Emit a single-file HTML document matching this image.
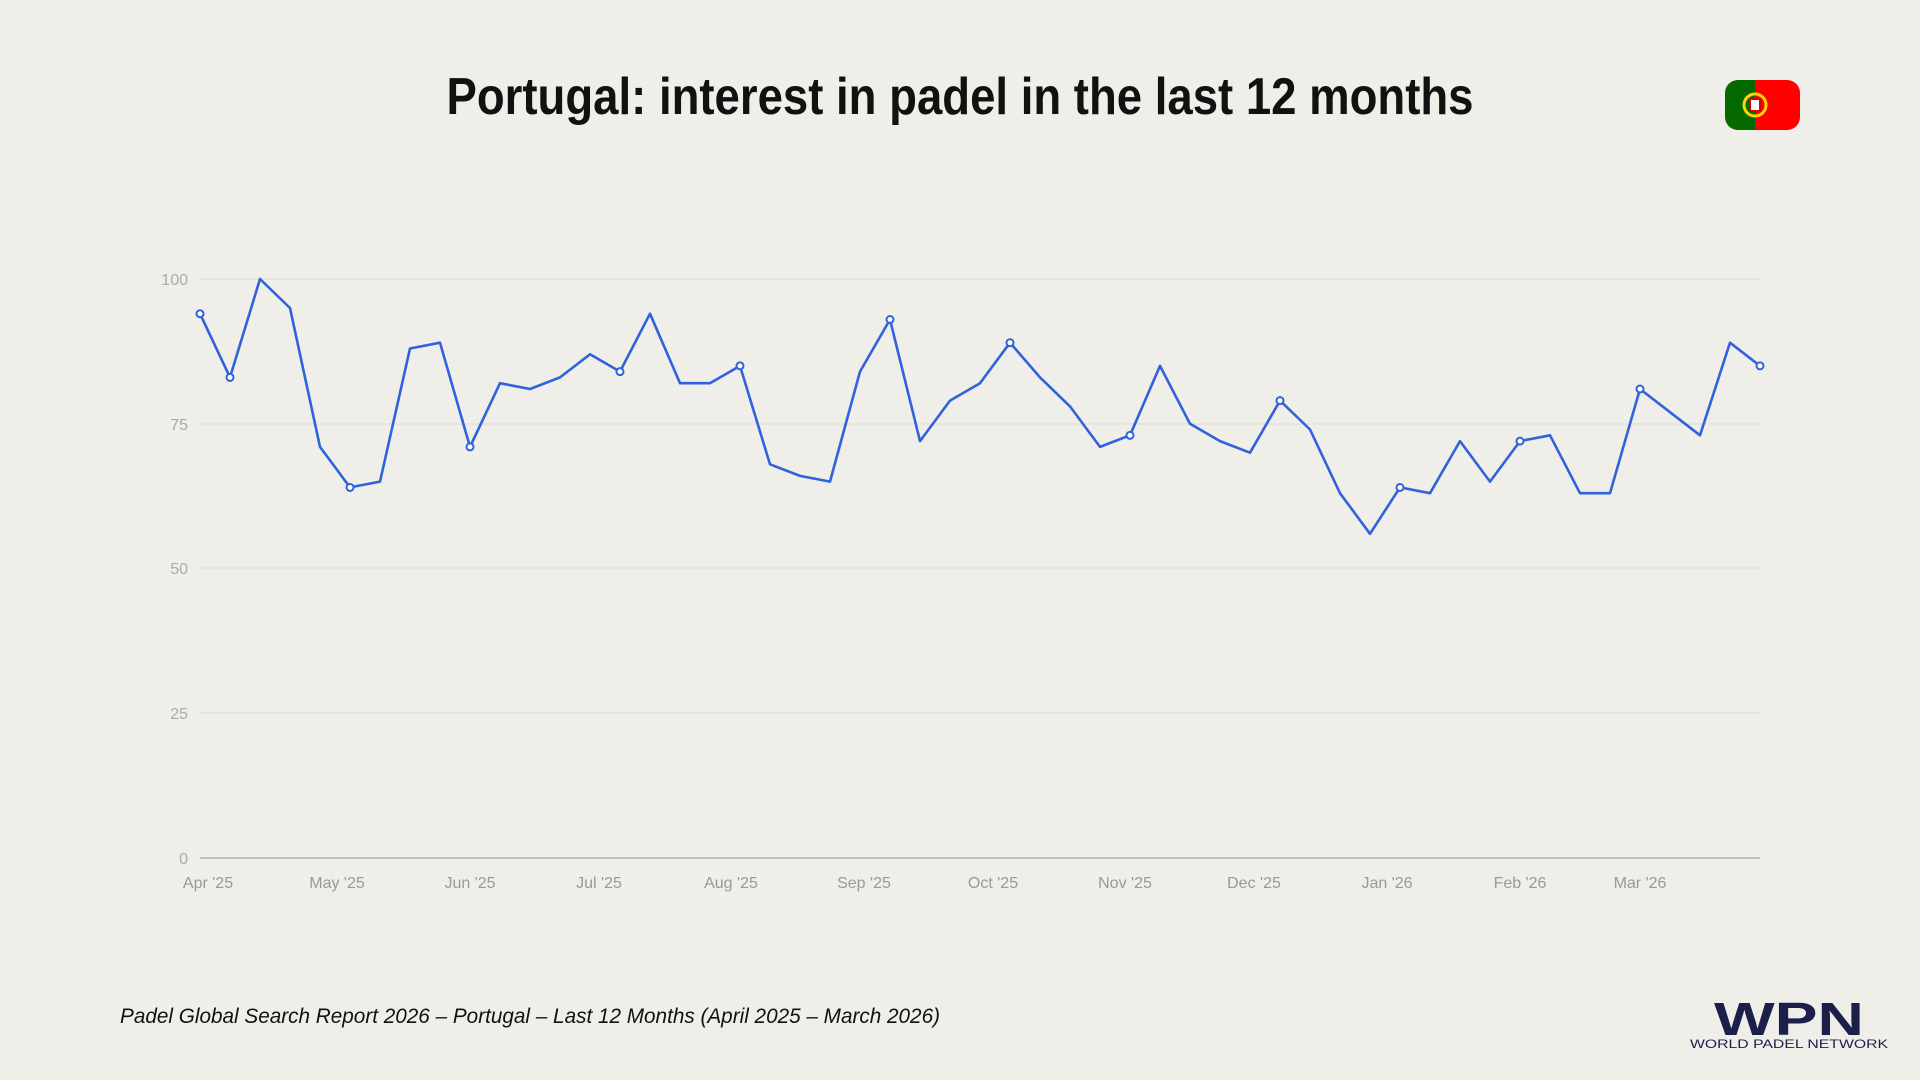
<!DOCTYPE html>
<html><head><meta charset="utf-8"><style>
html,body{margin:0;padding:0;background:#f0eee9;}
svg{display:block;font-family:"Liberation Sans",sans-serif;}
</style></head><body>
<svg width="1920" height="1080" viewBox="0 0 1920 1080" xmlns="http://www.w3.org/2000/svg">
<rect width="1920" height="1080" fill="#f0eee9"/>
<text x="960" y="114" text-anchor="middle" font-size="52" font-weight="bold" fill="#111" textLength="1027" lengthAdjust="spacingAndGlyphs">Portugal: interest in padel in the last 12 months</text>
<defs><clipPath id="fc"><rect x="1725" y="80" width="75" height="50" rx="13"/></clipPath></defs>
<g clip-path="url(#fc)"><rect x="1725" y="80" width="30" height="50" fill="#046a00"/><rect x="1755" y="80" width="45" height="50" fill="#ff0000"/></g>
<circle cx="1755" cy="105" r="11" fill="none" stroke="#ffd700" stroke-width="3"/>
<rect x="1750" y="99" width="10" height="12" fill="#fff" stroke="#d00" stroke-width="2"/>
<g font-size="16" fill="#aaa" text-anchor="end">
<text x="188" y="285">100</text><text x="188" y="430">75</text><text x="188" y="574">50</text><text x="188" y="719">25</text><text x="188" y="864">0</text>
</g>
<g stroke="#e2dfd9" stroke-width="1.2">
<line x1="200" y1="279" x2="1760" y2="279"/><line x1="200" y1="424" x2="1760" y2="424"/><line x1="200" y1="568" x2="1760" y2="568"/><line x1="200" y1="713" x2="1760" y2="713"/>
</g>
<line x1="200" y1="858" x2="1760" y2="858" stroke="#b5b2ad" stroke-width="1.5"/>
<g font-size="16" fill="#999" text-anchor="middle">
<text x="208" y="888">Apr '25</text><text x="337" y="888">May '25</text><text x="470" y="888">Jun '25</text><text x="599" y="888">Jul '25</text><text x="731" y="888">Aug '25</text><text x="864" y="888">Sep '25</text><text x="993" y="888">Oct '25</text><text x="1125" y="888">Nov '25</text><text x="1254" y="888">Dec '25</text><text x="1387" y="888">Jan '26</text><text x="1520" y="888">Feb '26</text><text x="1640" y="888">Mar '26</text>
</g>
<g id="series"></g>
<text x="120" y="1023" font-size="21" font-style="italic" fill="#111" textLength="820" lengthAdjust="spacingAndGlyphs">Padel Global Search Report 2026 – Portugal – Last 12 Months (April 2025 – March 2026)</text>
<text x="1789" y="1035" text-anchor="middle" font-size="46" font-weight="bold" fill="#1c1f4a" textLength="150" lengthAdjust="spacingAndGlyphs">WPN</text>
<text x="1789" y="1048" text-anchor="middle" font-size="12" fill="#1c1f4a" textLength="198" lengthAdjust="spacingAndGlyphs">WORLD PADEL NETWORK</text>
<script>
var v=[94,83,100,95,71,64,65,88,89,71,82,81,83,87,84,94,82,82,85,68,66,65,84,93,72,79,82,89,83,78,71,73,85,75,72,70,79,74,63,56,64,63,72,65,72,73,63,63,81,77,73,89,85];
var mk=[0,1,5,9,14,18,23,27,31,36,40,44,48,52];
var g=document.getElementById('series'),ns='http://www.w3.org/2000/svg';
function X(i){return 200+i*30;}function Y(d){return 858-d*5.79;}
var p=v.map(function(d,i){return X(i).toFixed(1)+','+Y(d).toFixed(1)}).join(' ');
var pl=document.createElementNS(ns,'polyline');pl.setAttribute('points',p);pl.setAttribute('fill','none');pl.setAttribute('stroke','#2f62dc');pl.setAttribute('stroke-width','2.6');pl.setAttribute('stroke-linejoin','round');g.appendChild(pl);
mk.forEach(function(i){var c=document.createElementNS(ns,'circle');c.setAttribute('cx',X(i));c.setAttribute('cy',Y(v[i]));c.setAttribute('r','3.5');c.setAttribute('fill','#fff');c.setAttribute('stroke','#2f62dc');c.setAttribute('stroke-width','2');g.appendChild(c);});
</script>
</svg>
</body></html>
